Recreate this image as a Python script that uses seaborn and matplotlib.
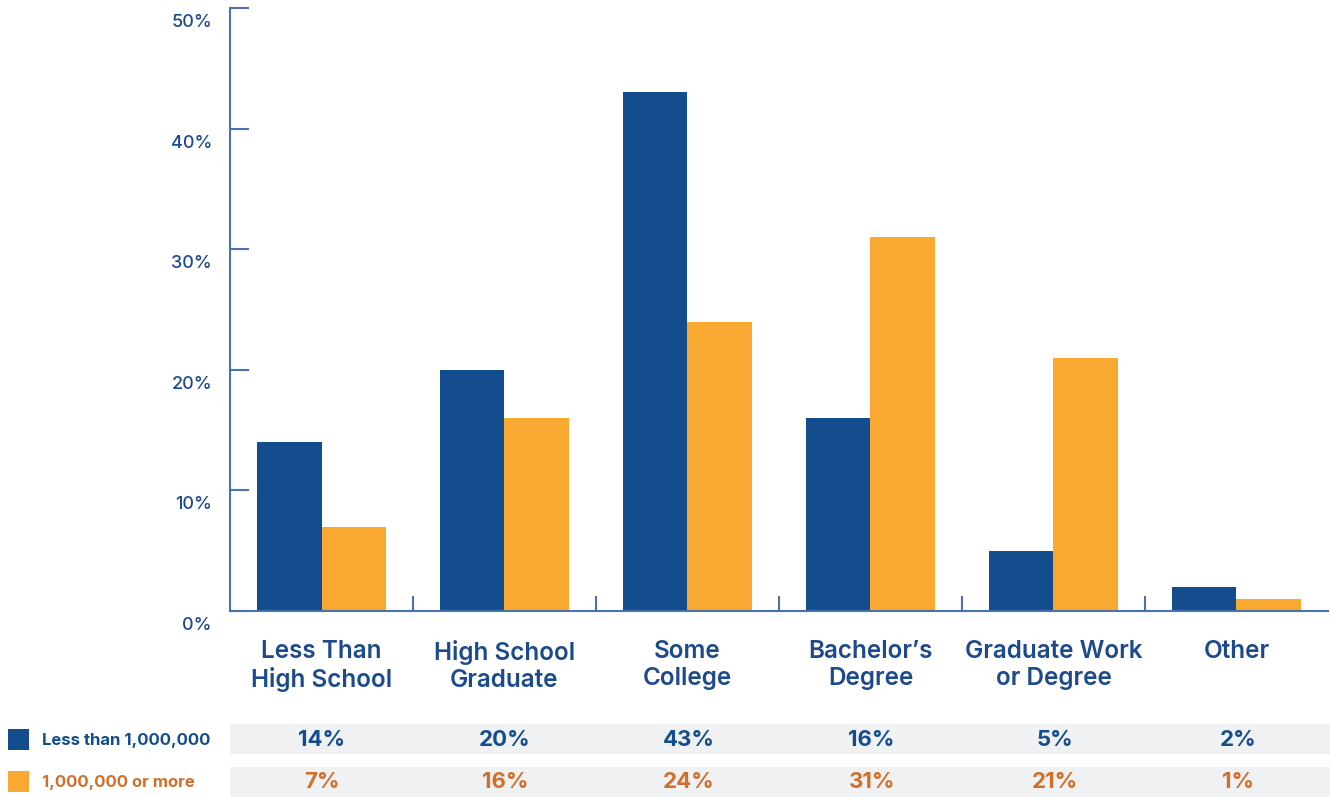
import matplotlib
matplotlib.use('Agg')
import matplotlib.pyplot as plt
import matplotlib.transforms as mtransforms
import seaborn as sns
import pandas as pd

categories = ['Less Than\nHigh School', 'High School\nGraduate', 'Some\nCollege',
              'Bachelor\u2019s\nDegree', 'Graduate Work\nor Degree', 'Other']
groups = ['Less than 1,000,000', '1,000,000 or more']
less_than_1m = [14, 20, 43, 16, 5, 2]
one_m_or_more = [7, 16, 24, 31, 21, 1]
y_ticks = [0, 10, 20, 30, 40, 50]

BLUE = '#134d8e'
ORANGE = '#f9a832'
ORANGE_TXT = '#cf6f2a'
AXIS = '#4a72ad'

df = pd.DataFrame({
    'category': categories * 2,
    'value': less_than_1m + one_m_or_more,
    'group': [groups[0]] * len(categories) + [groups[1]] * len(categories),
})

sns.set_style('white')
plt.rcParams['font.family'] = ['Inter', 'DejaVu Sans']

fig = plt.figure(figsize=(13.3, 7.97), dpi=100)
ax = fig.add_axes([230 / 1330, 1 - 611 / 797, 1098 / 1330, (611 - 8) / 797])

sns.barplot(data=df, x='category', y='value', hue='group', order=categories,
            hue_order=groups, palette=[BLUE, ORANGE], saturation=1,
            width=0.71, legend=False, linewidth=0, ax=ax)

ax.set_xlim(-0.5, len(categories) - 0.5)
ax.set_ylim(0, 50)
ax.set_xlabel('')
ax.set_ylabel('')
for s in ['top', 'right']:
    ax.spines[s].set_visible(False)
for s in ['left', 'bottom']:
    ax.spines[s].set_color(AXIS)
    ax.spines[s].set_linewidth(1.5)

ax.set_yticks(y_ticks)
ax.set_yticklabels([f'{t}%' for t in y_ticks])
ax.tick_params(axis='y', direction='in', length=14, width=1.5, color=AXIS,
               labelcolor='#1d4a8c', labelsize=13, pad=13, left=True)
for lab in ax.get_yticklabels():
    lab.set_fontweight('medium')
offset = mtransforms.ScaledTranslation(0, -9 / 72, fig.dpi_scale_trans)
for lab in ax.get_yticklabels():
    lab.set_transform(lab.get_transform() + offset)

ax.set_xticks(range(len(categories)))
ax.set_xticklabels(categories, linespacing=1.2)
ax.tick_params(axis='x', which='major', length=0, labelcolor='#1d4a8c',
               labelsize=17.5, pad=21)
for lab in ax.get_xticklabels():
    lab.set_fontweight('semibold')
ax.set_xticks([i + 0.5 for i in range(len(categories) - 1)], minor=True)
ax.tick_params(axis='x', which='minor', direction='in', length=11, width=1.5,
               color=AXIS, bottom=True)

# data table below the chart
tab = fig.add_axes([230 / 1330, 0, 1100 / 1330, 1 - 724 / 797])
tab.set_xlim(-0.5, len(categories) - 0.5)
tab.set_ylim(797, 724)
tab.axis('off')
tab.axhspan(724, 754, color='#f0f1f3', lw=0)
tab.axhspan(767, 797, color='#f0f1f3', lw=0)
for i in range(len(categories)):
    tab.text(i, 740, f'{less_than_1m[i]}%', ha='center', va='center',
             color=BLUE, fontsize=16, fontweight='bold')
    tab.text(i, 782, f'{one_m_or_more[i]}%', ha='center', va='center',
             color=ORANGE_TXT, fontsize=16, fontweight='bold')

for y, c, tc, g in [(740, BLUE, BLUE, groups[0]), (782, ORANGE, ORANGE_TXT, groups[1])]:
    fig.patches.append(plt.Rectangle((8 / 1330, 1 - (y + 10) / 797), 21 / 1330, 21 / 797,
                                     transform=fig.transFigure, color=c, lw=0))
    fig.text(42 / 1330, 1 - y / 797, g, ha='left', va='center', color=tc,
             fontsize=12, fontweight='bold')

fig.savefig('out.png', dpi=100)
